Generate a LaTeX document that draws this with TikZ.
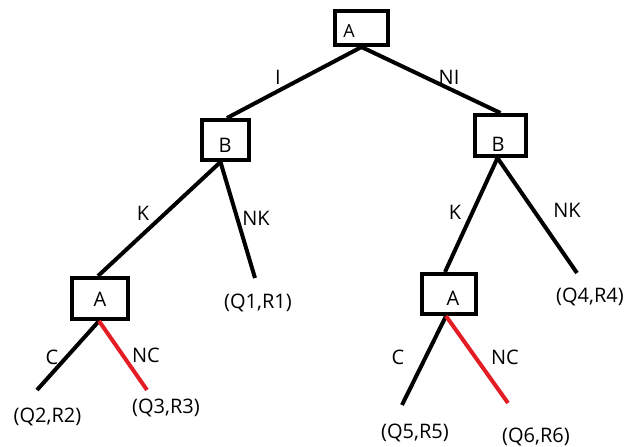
\documentclass[tikz,border=0pt]{standalone}
\usepackage{fontspec}
\setmainfont{Open Sans}
\usetikzlibrary{calc}
\begin{document}
\begin{tikzpicture}[x=1pt,y=-1pt,
  box/.style={draw=black, line width=4pt, inner sep=0pt},
  txt/.style={inner sep=0pt, font=\fontsize{20}{24}\selectfont},
  edge/.style={draw=black, line width=4pt},
  redge/.style={draw={rgb,255:red,228;green,28;blue,36}, line width=4pt}]
\useasboundingbox (0,0) rectangle (627,447);
% boxes
\node[box, minimum width=53pt, minimum height=34pt] (a0) at (361.5,28) {};
\node[box, minimum width=47pt, minimum height=40pt] (b1) at (225.5,140) {};
\node[box, minimum width=51pt, minimum height=41pt] (b2) at (500.5,135.5) {};
\node[box, minimum width=56pt, minimum height=41pt] (a1) at (100,298.5) {};
\node[box, minimum width=54pt, minimum height=40pt] (a2) at (449,294) {};
% box texts
\node[txt, font=\fontsize{18}{22}\selectfont] (ta0) at (349,31) {A};
\node[txt] (tb1) at (225,145) {B};
\node[txt] (tb2) at (498,144) {B};
\node[txt] (ta1) at (100,299) {A};
\node[txt] (ta2) at (453,298) {A};
% leaf end points
\coordinate (e1) at (255,278);
\coordinate (e4) at (577,273);
\coordinate (e2) at (37,390);
\coordinate (e3) at (147,390);
\coordinate (e5) at (402,405);
\coordinate (e6) at (508,403);
% edges
\draw[edge] (a0.south) -- ($(b1.north)+(1.5,0)$);
\draw[edge] (a0.south) -- (b2.north);
\draw[edge] ($(b1.south)+(-5,0)$) -- ($(a1.north)+(-2,0)$);
\draw[edge] ($(b1.south)+(-5,0)$) -- (e1);
\draw[edge] ($(b2.south)+(-3,0)$) -- ($(a2.north)+(-4,0)$);
\draw[edge] ($(b2.south)+(-3,0)$) -- (e4);
\draw[edge] ($(a1.south)+(-1,0)$) -- (e2);
\draw[redge] ($(a1.south)+(-1,0)$) -- (e3);
\draw[edge] ($(a2.south)+(-3,0)$) -- (e5);
\draw[redge] ($(a2.south)+(-3,0)$) -- (e6);
% edge labels
\node[txt] (lI) at (278,77) {I};
\node[txt] (lNI) at (449,77) {NI};
\node[txt] (lK1) at (143,213) {K};
\node[txt] (lNK1) at (256,218) {NK};
\node[txt] (lK2) at (455,212) {K};
\node[txt] (lNK2) at (567,210) {NK};
\node[txt] (lC1) at (52,357) {C};
\node[txt] (lNC1) at (146,355) {NC};
\node[txt] (lC2) at (398,357) {C};
\node[txt] (lNC2) at (505,357) {NC};
% leaves
\node[txt] (q1) at (258,303) {(Q1,R1)};
\node[txt] (q2) at (47.5,417) {(Q2,R2)};
\node[txt] (q3) at (166,408) {(Q3,R3)};
\node[txt] (q4) at (590,297) {(Q4,R4)};
\node[txt] (q5) at (415,433) {(Q5,R5)};
\node[txt] (q6) at (536,437) {(Q6,R6)};
\end{tikzpicture}
\end{document}
